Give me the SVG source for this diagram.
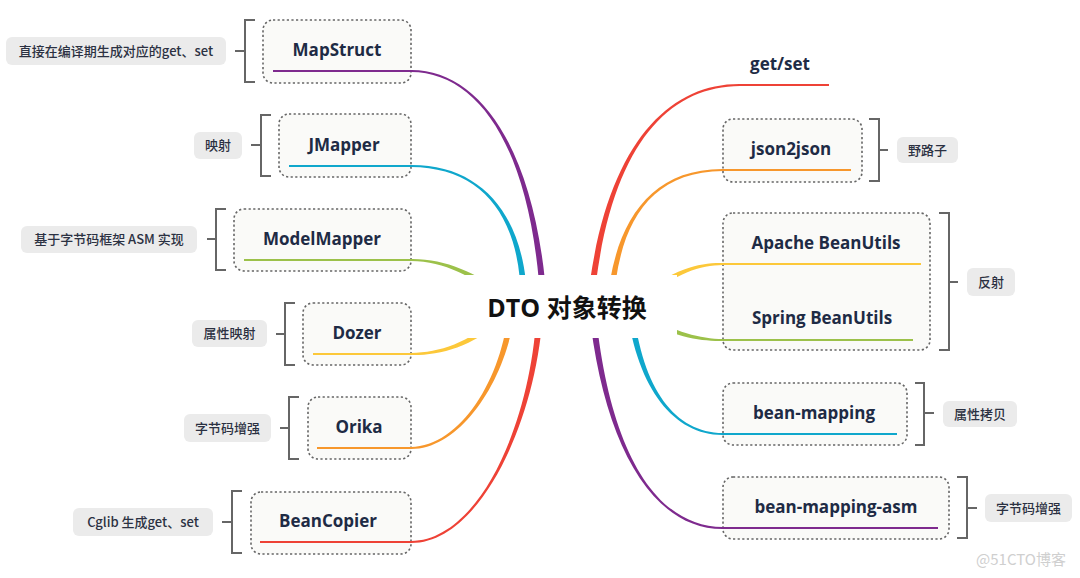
<svg xmlns="http://www.w3.org/2000/svg" width="1080" height="578" viewBox="0 0 1080 578">
<style>
.box{fill:#fafaf8;stroke:#666;stroke-width:1.6;stroke-dasharray:2.2 2.4}
.lbl{fill:#ebebeb}
.br{fill:none;stroke:#666;stroke-width:2}
.nt{font-family:"Open Sans","Noto Sans CJK SC",sans-serif;font-weight:700;font-size:17px;fill:#1e2b45;text-anchor:middle}
.lt{font-family:"Noto Sans CJK SC","Open Sans",sans-serif;font-weight:500;font-size:13px;fill:#2b3142;text-anchor:middle}
.ul{fill:none;stroke-width:2}
.purple{fill:#7e2a8e;stroke:#7e2a8e}
.cyan{fill:#0fa7cc;stroke:#0fa7cc}
.green{fill:#9cc14a;stroke:#9cc14a}
.yellow{fill:#fcc83a;stroke:#fcc83a}
.orange{fill:#f7972c;stroke:#f7972c}
.red{fill:#ee4236;stroke:#ee4236}
.ul.purple,.ul.cyan,.ul.green,.ul.yellow,.ul.orange,.ul.red{fill:none}
.br-shape{stroke:none}
</style>
<rect width="1080" height="578" fill="#ffffff"/>

<g id="node-mapstruct">
<rect class="box" x="263" y="20" width="148" height="63" rx="10"/>
<text class="nt" x="337" y="56">MapStruct</text>
<path class="br" d="M255,20H245V82H255M245,51H235"/>
<rect class="lbl" x="6" y="37" width="220" height="28" rx="6"/>
<text class="lt" x="116" y="55.5">直接在编译期生成对应的get、set</text>
</g>
<g id="node-jmapper">
<rect class="box" x="279" y="114" width="132" height="63" rx="10"/>
<text class="nt" x="344" y="151">JMapper</text>
<path class="br" d="M271,115H261V176H271M261,145H251"/>
<rect class="lbl" x="194" y="132" width="48" height="27" rx="6"/>
<text class="lt" x="218" y="150">映射</text>
</g>
<g id="node-modelmapper">
<rect class="box" x="234" y="209" width="177" height="62" rx="10"/>
<text class="nt" x="322" y="245">ModelMapper</text>
<path class="br" d="M226,209H216V270H226M216,239H207"/>
<rect class="lbl" x="21" y="226" width="176" height="27" rx="6"/>
<text class="lt" x="109" y="244">基于字节码框架 ASM 实现</text>
</g>
<g id="node-dozer">
<rect class="box" x="303" y="303" width="108" height="62" rx="10"/>
<text class="nt" x="357" y="339">Dozer</text>
<path class="br" d="M295,303H285V365H295M285,334H276"/>
<rect class="lbl" x="192" y="320" width="75" height="27" rx="6"/>
<text class="lt" x="229.5" y="338">属性映射</text>
</g>
<g id="node-orika">
<rect class="box" x="308" y="397" width="103" height="62" rx="10"/>
<text class="nt" x="359" y="433">Orika</text>
<path class="br" d="M299,397H289V459H299M289,428H280"/>
<rect class="lbl" x="184" y="414" width="87" height="28" rx="6"/>
<text class="lt" x="227.5" y="432.5">字节码增强</text>
</g>
<g id="node-beancopier">
<rect class="box" x="251" y="492" width="160" height="62" rx="10"/>
<text class="nt" x="328" y="527">BeanCopier</text>
<path class="br" d="M242,491H232V553H242M232,522H222"/>
<rect class="lbl" x="73" y="508" width="140" height="28" rx="6"/>
<text class="lt" x="143" y="526.5">Cglib 生成get、set</text>
</g>

<g id="node-getset">
<text class="nt" x="780" y="70">get/set</text>
</g>
<g id="node-json2json">
<rect class="box" x="723" y="119" width="139" height="63" rx="10"/>
<text class="nt" x="791" y="155">json2json</text>
<path class="br" d="M869,119H879V181H869M879,150H888"/>
<rect class="lbl" x="897" y="137" width="61" height="26" rx="6"/>
<text class="lt" x="927.5" y="154.5">野路子</text>
</g>
<g id="node-beanutils">
<rect class="box" x="723" y="213" width="207" height="137" rx="10"/>
<text class="nt" x="826" y="249">Apache BeanUtils</text>
<text class="nt" x="822" y="324">Spring BeanUtils</text>
<path class="br" d="M939,213H949V350H939M949,282H958"/>
<rect class="lbl" x="967" y="268" width="48" height="28" rx="6"/>
<text class="lt" x="991" y="286.5">反射</text>
</g>
<g id="node-beanmapping">
<rect class="box" x="723" y="383" width="184" height="62" rx="10"/>
<text class="nt" x="814" y="419">bean-mapping</text>
<path class="br" d="M915,383H924V445H915M924,413H934"/>
<rect class="lbl" x="943" y="401" width="74" height="26" rx="6"/>
<text class="lt" x="980" y="418.5">属性拷贝</text>
</g>
<g id="node-beanmappingasm">
<rect class="box" x="723" y="477" width="226" height="62" rx="10"/>
<text class="nt" x="836" y="513">bean-mapping-asm</text>
<path class="br" d="M957,477H967V538H957M967,508H977"/>
<rect class="lbl" x="985" y="494" width="87" height="28" rx="6"/>
<text class="lt" x="1028.5" y="512.5">字节码增强</text>
</g>

<g id="connectors">
<path class="purple br-shape" d="M547.2,308C537.5,150 480,69.5 411,70L411,72C480,72.5 532.5,150 540.8,308Z"/>
<path class="cyan br-shape" d="M527.2,308C527.5,220 485,164.5 411,165L411,167C485,167.5 522.5,220 520.8,308Z"/>
<path class="green br-shape" d="M501.9,292.7C476.6,273.1 445,258.5 411,259L411,261C445,261.5 473.4,276.9 498.1,297.3Z"/>
<path class="yellow br-shape" d="M498,315.8C468.3,343.2 440,352.5 411,353L411,355C440,355.5 471.7,346.9 502,320.2Z"/>
<path class="orange br-shape" d="M508.8,307.6C502.5,379.6 460,446.5 411,447L411,449C460,449.5 507.5,380.4 515.2,308.4Z"/>
<path class="red br-shape" d="M536.8,308C532.5,420 480,540.5 411,541L411,543C480,543.5 537.5,420 543.2,308Z"/>
<path class="red br-shape" d="M593.2,308C607.5,150 665,86.5 740,86L740,84C665,83.5 602.5,150 586.8,308Z"/>
<path class="orange br-shape" d="M613.2,308C617.5,230 645,171.5 723,171L723,169C645,168.5 612.5,230 606.8,308Z"/>
<path class="yellow br-shape" d="M642,302.3C676.6,271.9 700,265.5 723,265L723,263C700,262.5 673.4,268.1 638,297.7Z"/>
<path class="green br-shape" d="M638.5,317.6C673.75,337.2 700,341.5 723,341L723,339C700,338.5 676.25,332.8 641.5,312.4Z"/>
<path class="cyan br-shape" d="M626.9,308.6C637.55,390.45 675,435.5 723,435L723,433C675,432.5 642.45,389.55 633.1,307.4Z"/>
<path class="purple br-shape" d="M588.8,308.3C602.5,440.25 650,529.5 723,529L723,527C650,526.5 607.5,439.75 595.2,307.7Z"/>
<path class="ul purple" d="M273,71H411"/>
<path class="ul cyan" d="M289,166H411"/>
<path class="ul green" d="M244,260H411"/>
<path class="ul yellow" d="M313,354H411"/>
<path class="ul orange" d="M317,448H411"/>
<path class="ul red" d="M260,542H411"/>
<path class="ul red" d="M740,85H829"/>
<path class="ul orange" d="M723,170H851"/>
<path class="ul yellow" d="M723,264H921"/>
<path class="ul green" d="M723,340H913"/>
<path class="ul cyan" d="M723,434H897"/>
<path class="ul purple" d="M723,528H938"/>
</g>

<g id="node-center">
<rect x="465" y="275" width="212" height="63" fill="#ffffff"/>
<text x="567" y="317" font-family="'Open Sans','Noto Sans CJK SC',sans-serif" font-weight="700" font-size="25" fill="#111111" text-anchor="middle">DTO 对象转换</text>
</g>

<text x="1021" y="565" font-family="'Noto Sans CJK SC','Liberation Sans',sans-serif" font-size="15" fill="#cfcfcf" text-anchor="middle">@51CTO博客</text>
</svg>
